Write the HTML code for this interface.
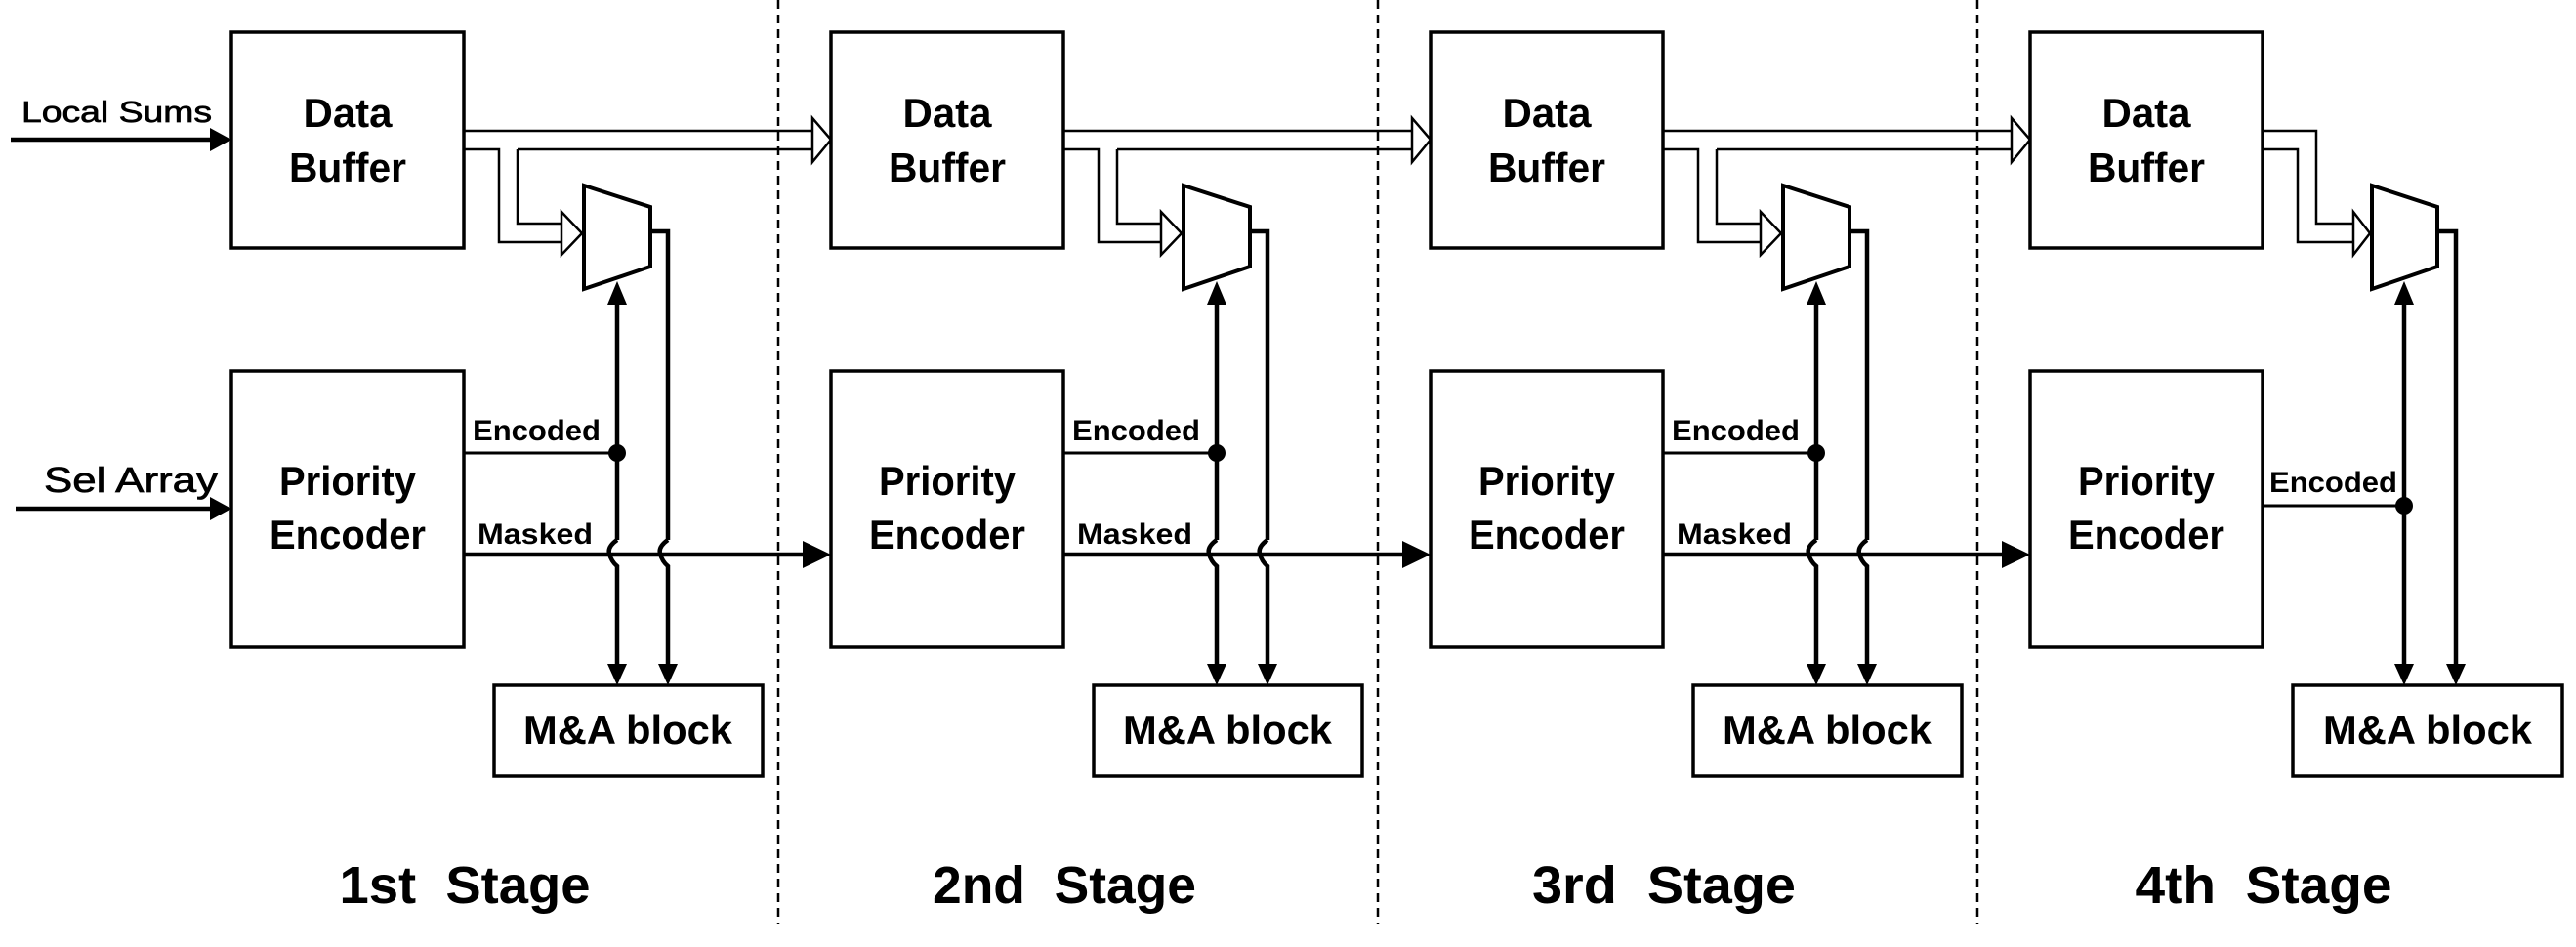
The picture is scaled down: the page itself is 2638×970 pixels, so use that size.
<!DOCTYPE html>
<html><head><meta charset="utf-8"><style>
html,body{margin:0;padding:0;background:#fff;}
svg{display:block;}
text{font-family:"Liberation Sans",sans-serif;fill:#000;}
</style></head><body>
<svg width="2638" height="970" viewBox="0 0 2638 970" xmlns="http://www.w3.org/2000/svg">
<defs>
<g id="stage">
  <rect x="237" y="33" width="238" height="221" fill="#fff" stroke="#000" stroke-width="3.5"/>
  <rect x="237" y="380" width="238" height="283" fill="#fff" stroke="#000" stroke-width="3.5"/>
  <rect x="506" y="702" width="275" height="93" fill="#fff" stroke="#000" stroke-width="3.5"/>
  <text x="356" y="130" font-size="42" font-weight="bold" text-anchor="middle" textLength="91" lengthAdjust="spacingAndGlyphs">Data</text>
  <text x="356" y="186" font-size="42" font-weight="bold" text-anchor="middle" textLength="120" lengthAdjust="spacingAndGlyphs">Buffer</text>
  <text x="356" y="507" font-size="42" font-weight="bold" text-anchor="middle" textLength="140" lengthAdjust="spacingAndGlyphs">Priority</text>
  <text x="356" y="562" font-size="42" font-weight="bold" text-anchor="middle" textLength="160" lengthAdjust="spacingAndGlyphs">Encoder</text>
  <text x="643" y="762" font-size="42" font-weight="bold" text-anchor="middle" textLength="214" lengthAdjust="spacingAndGlyphs">M&amp;A block</text>
  <polygon points="598,190 666,212 666,273 598,296" fill="#fff" stroke="#000" stroke-width="4"/>
  <polyline points="475,153 511,153 511,248 575,248" fill="none" stroke="#000" stroke-width="2.5"/>
  <polyline points="530,153 530,229 575,229" fill="none" stroke="#000" stroke-width="2.5"/>
  <polygon points="575,217 596,239 575,261" fill="#fff" stroke="#000" stroke-width="2.5"/>
  <polyline points="666,237 684,237 684,553" fill="none" stroke="#000" stroke-width="4.5"/>
  <path d="M684,553 Q674,560 676,567 Q678,575 684,580 L684,682" fill="none" stroke="#000" stroke-width="4.5"/>
  <polygon points="674,680 694,680 684,702" fill="#000"/>
  <line x1="632" y1="310" x2="632" y2="553" stroke="#000" stroke-width="4.5"/>
  <path d="M632,553 Q622,560 624,567 Q626,575 632,580 L632,682" fill="none" stroke="#000" stroke-width="4.5"/>
  <polygon points="622,312 642,312 632,288" fill="#000"/>
  <polygon points="622,680 642,680 632,702" fill="#000"/>
  <line x1="475" y1="464" x2="632" y2="464" stroke="#000" stroke-width="3"/>
  <circle cx="632" cy="464" r="9" fill="#000"/>
  <text x="484" y="451" font-size="30" textLength="131" lengthAdjust="spacingAndGlyphs" font-weight="bold">Encoded</text>
  <text x="489" y="557" font-size="30" textLength="118" lengthAdjust="spacingAndGlyphs" font-weight="bold">Masked</text>
</g>
<g id="hollow">
  <line x1="475" y1="134" x2="832" y2="134" stroke="#000" stroke-width="2.5"/>
  <line x1="530" y1="153" x2="832" y2="153" stroke="#000" stroke-width="2.5"/>
  <polygon points="832,121 851,143 832,166" fill="#fff" stroke="#000" stroke-width="2.5"/>
  <line x1="475" y1="568" x2="826" y2="568" stroke="#000" stroke-width="4.5"/>
  <polygon points="822,554 851,568 822,582" fill="#000"/>
</g>
</defs>

<g stroke="#000" stroke-width="2.5" stroke-dasharray="9,6">
  <line x1="797" y1="0" x2="797" y2="946"/>
  <line x1="1411" y1="0" x2="1411" y2="946"/>
  <line x1="2025" y1="0" x2="2025" y2="946"/>
</g>

<use href="#hollow"/>
<use href="#hollow" transform="translate(614,0)"/>
<use href="#hollow" transform="translate(1228,0)"/>
<use href="#stage"/>
<use href="#stage" transform="translate(614,0)"/>
<use href="#stage" transform="translate(1228,0)"/>

<line x1="11" y1="143" x2="218" y2="143" stroke="#000" stroke-width="4.5"/>
<polygon points="215,131 237,143 215,155" fill="#000"/>
<text x="22" y="125" font-size="31" stroke="#000" stroke-width="0.7" textLength="195" lengthAdjust="spacingAndGlyphs">Local Sums</text>
<line x1="16" y1="521" x2="218" y2="521" stroke="#000" stroke-width="4.5"/>
<polygon points="215,509 237,521 215,533" fill="#000"/>
<text x="45" y="504" font-size="36" stroke="#000" stroke-width="0.7" textLength="178" lengthAdjust="spacingAndGlyphs">Sel Array</text>

<g>
  <rect x="2079" y="33" width="238" height="221" fill="#fff" stroke="#000" stroke-width="3.5"/>
  <rect x="2079" y="380" width="238" height="283" fill="#fff" stroke="#000" stroke-width="3.5"/>
  <rect x="2348" y="702" width="276" height="93" fill="#fff" stroke="#000" stroke-width="3.5"/>
  <text x="2198" y="130" font-size="42" font-weight="bold" text-anchor="middle" textLength="91" lengthAdjust="spacingAndGlyphs">Data</text>
  <text x="2198" y="186" font-size="42" font-weight="bold" text-anchor="middle" textLength="120" lengthAdjust="spacingAndGlyphs">Buffer</text>
  <text x="2198" y="507" font-size="42" font-weight="bold" text-anchor="middle" textLength="140" lengthAdjust="spacingAndGlyphs">Priority</text>
  <text x="2198" y="562" font-size="42" font-weight="bold" text-anchor="middle" textLength="160" lengthAdjust="spacingAndGlyphs">Encoder</text>
  <text x="2486" y="762" font-size="42" font-weight="bold" text-anchor="middle" textLength="214" lengthAdjust="spacingAndGlyphs">M&amp;A block</text>
  <polygon points="2429,190 2496,212 2496,273 2429,296" fill="#fff" stroke="#000" stroke-width="4"/>
  <polyline points="2317,134 2372,134 2372,229 2410,229" fill="none" stroke="#000" stroke-width="2.5"/>
  <polyline points="2317,153 2353,153 2353,248 2410,248" fill="none" stroke="#000" stroke-width="2.5"/>
  <polygon points="2410,217 2427,239 2410,261" fill="#fff" stroke="#000" stroke-width="2.5"/>
  <polyline points="2496,237 2515,237 2515,682" fill="none" stroke="#000" stroke-width="4.5"/>
  <polygon points="2505,680 2525,680 2515,702" fill="#000"/>
  <line x1="2462" y1="310" x2="2462" y2="682" stroke="#000" stroke-width="4.5"/>
  <polygon points="2452,312 2472,312 2462,288" fill="#000"/>
  <polygon points="2452,680 2472,680 2462,702" fill="#000"/>
  <line x1="2317" y1="518" x2="2462" y2="518" stroke="#000" stroke-width="3"/>
  <circle cx="2462" cy="518" r="9" fill="#000"/>
  <text x="2324" y="504" font-size="30" textLength="131" lengthAdjust="spacingAndGlyphs" font-weight="bold">Encoded</text>
</g>

<text x="476" y="925" font-size="54" font-weight="bold" text-anchor="middle" textLength="257" lengthAdjust="spacingAndGlyphs" xml:space="preserve">1st  Stage</text>
<text x="1090" y="925" font-size="54" font-weight="bold" text-anchor="middle" textLength="270" lengthAdjust="spacingAndGlyphs" xml:space="preserve">2nd  Stage</text>
<text x="1704" y="925" font-size="54" font-weight="bold" text-anchor="middle" textLength="270" lengthAdjust="spacingAndGlyphs" xml:space="preserve">3rd  Stage</text>
<text x="2318" y="925" font-size="54" font-weight="bold" text-anchor="middle" textLength="263" lengthAdjust="spacingAndGlyphs" xml:space="preserve">4th  Stage</text>
</svg>
</body></html>
